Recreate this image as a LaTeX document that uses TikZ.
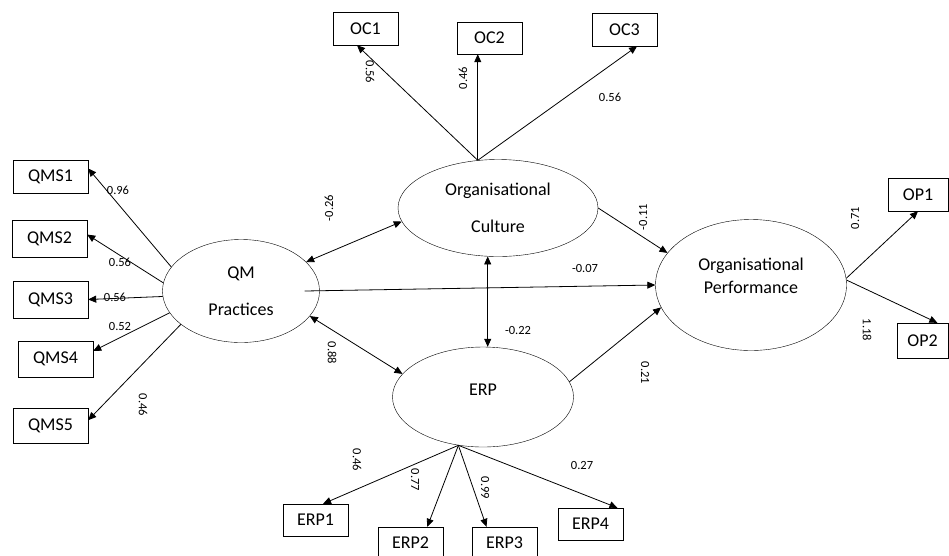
\documentclass[tikz,border=0pt]{standalone}
\usepackage{fontspec}
\setmainfont{Carlito}
\usetikzlibrary{shapes.geometric,arrows.meta}

\tikzset{
    latent/.style={draw, ellipse, inner sep=0pt, align=center, font=\fontsize{18}{22}\selectfont},
    obs/.style={draw, rectangle, inner sep=0pt, minimum width=65pt, minimum height=33pt, font=\fontsize{18}{22}\selectfont},
    qbox/.style={obs, minimum width=75pt, minimum height=36pt},
    path/.style={-{Triangle[length=8pt,width=7pt]}, line width=0.8pt},
    cov/.style={{Triangle[length=8pt,width=7pt]}-{Triangle[length=8pt,width=7pt]}, line width=0.8pt},
    coef/.style={font=\fontsize{12.5}{14}\selectfont, inner sep=0pt},
}

\begin{document}
\begin{tikzpicture}[x=1pt,y=-1pt]
    \useasboundingbox (0,0) rectangle (949,555);

    % latent variables
    \node[latent, minimum width=157pt, minimum height=103pt] (qm) at (241,291) {QM\\[15pt]Practices};
    \node[latent, minimum width=200pt, minimum height=97pt] (oc) at (498,208) {Organisational\\[15pt]Culture};
    \node[latent, minimum width=181pt, minimum height=100pt, text depth=14pt] (erp) at (483,397) {ERP};
    \node[latent, minimum width=191pt, minimum height=131pt, text depth=19pt] (op) at (751,285) {Organisational\\[1pt]Performance};

    % indicators
    \node[qbox, minimum height=33pt] (qms1) at (50.5,176.5) {QMS1};
    \node[qbox, minimum height=37pt] (qms2) at (49.5,238.5) {QMS2};
    \node[qbox, minimum height=37pt] (qms3) at (50.5,299.5) {QMS3};
    \node[qbox] (qms4) at (55.5,359) {QMS4};
    \node[qbox, minimum height=35pt] (qms5) at (50.5,425.5) {QMS5};

    \node[obs] (oc1) at (365.5,28.5) {OC1};
    \node[obs, minimum height=32pt] (oc2) at (489.5,38) {OC2};
    \node[obs] (oc3) at (624.5,29.5) {OC3};

    \node[obs, minimum width=60pt] (op1) at (918,194.5) {OP1};
    \node[obs, minimum width=51pt, minimum height=35pt] (op2) at (922.5,340.5) {OP2};

    \node[obs, minimum height=32pt] (erp1) at (315.5,520) {ERP1};
    \node[obs, minimum height=32pt] (erp2) at (410.5,543) {ERP2};
    \node[obs, minimum height=32pt] (erp3) at (504.5,543) {ERP3};
    \node[obs, minimum height=32pt] (erp4) at (590.5,524) {ERP4};

    % loadings
    \draw[path] (qm.161) -- (qms1.12);
    \draw[path] (qm.174) -- (qms2.6);
    \draw[path] (qm.184) -- (qms3.east);
    \draw[path] (qm.197) -- (qms4.12);
    \draw[path] (qm.209) -- (qms5.8);

    \draw[path] (oc.113) -- (oc1.243);
    \draw[path] (oc.113) -- (oc.113 |- oc2.south);
    \draw[path] (oc.113) -- (oc3.-53);

    \draw[path] (op.4) -- (op1.south);
    \draw[path] (op.3) -- (op2.50);

    \draw[path] (erp.243) -- (erp1.65);
    \draw[path] (erp.243) -- (erp2.44);
    \draw[path] (erp.243) -- (erp3.138);
    \draw[path] (erp.243) -- (erp4.31);

    % structural paths
    \draw[cov] (qm.24) -- (oc.188);
    \draw[cov] (qm.-20) -- (erp.164);
    \draw[cov] (oc.258) -- (oc.258 |- erp.north);
    \draw[path] ([xshift=-15pt]qm.east) -- (op.west);
    \draw[path] (oc.east) -- (op.159);
    \draw[path] (erp.10) -- (op.194);

    % coefficients
    \node[coef] (c_qms1) at (118,190) {0.96};
    \node[coef] (c_qms2) at (120,262) {0.56};
    \node[coef] (c_qms3) at (115,297) {0.56};
    \node[coef] (c_qms4) at (120,326) {0.52};
    \node[coef, rotate=-90] (c_qms5) at (143,405) {0.46};

    \node[coef, rotate=-90] (c_oc1) at (370,72) {0.56};
    \node[coef, rotate=90] (c_oc2) at (463,78) {0.46};
    \node[coef] (c_oc3) at (610,97) {0.56};

    \node[coef, rotate=90] (c_qmoc) at (329,208) {-0.26};
    \node[coef] (c_qmop) at (585,268) {-0.07};
    \node[coef, rotate=-90] (c_qmerp) at (332,353) {0.88};
    \node[coef] (c_ocerp) at (518,330) {-0.22};
    \node[coef, rotate=90] (c_ocop) at (643,217) {-0.11};
    \node[coef, rotate=-90] (c_erpop) at (645,373) {0.21};

    \node[coef, rotate=90] (c_op1) at (855,218) {0.71};
    \node[coef, rotate=-90] (c_op2) at (867,330) {1.18};

    \node[coef, rotate=-90] (c_erp1) at (357,460) {0.46};
    \node[coef, rotate=-90] (c_erp2) at (415,480) {0.77};
    \node[coef, rotate=-90] (c_erp3) at (485,488) {0.99};
    \node[coef] (c_erp4) at (582,465) {0.27};
\end{tikzpicture}
\end{document}
